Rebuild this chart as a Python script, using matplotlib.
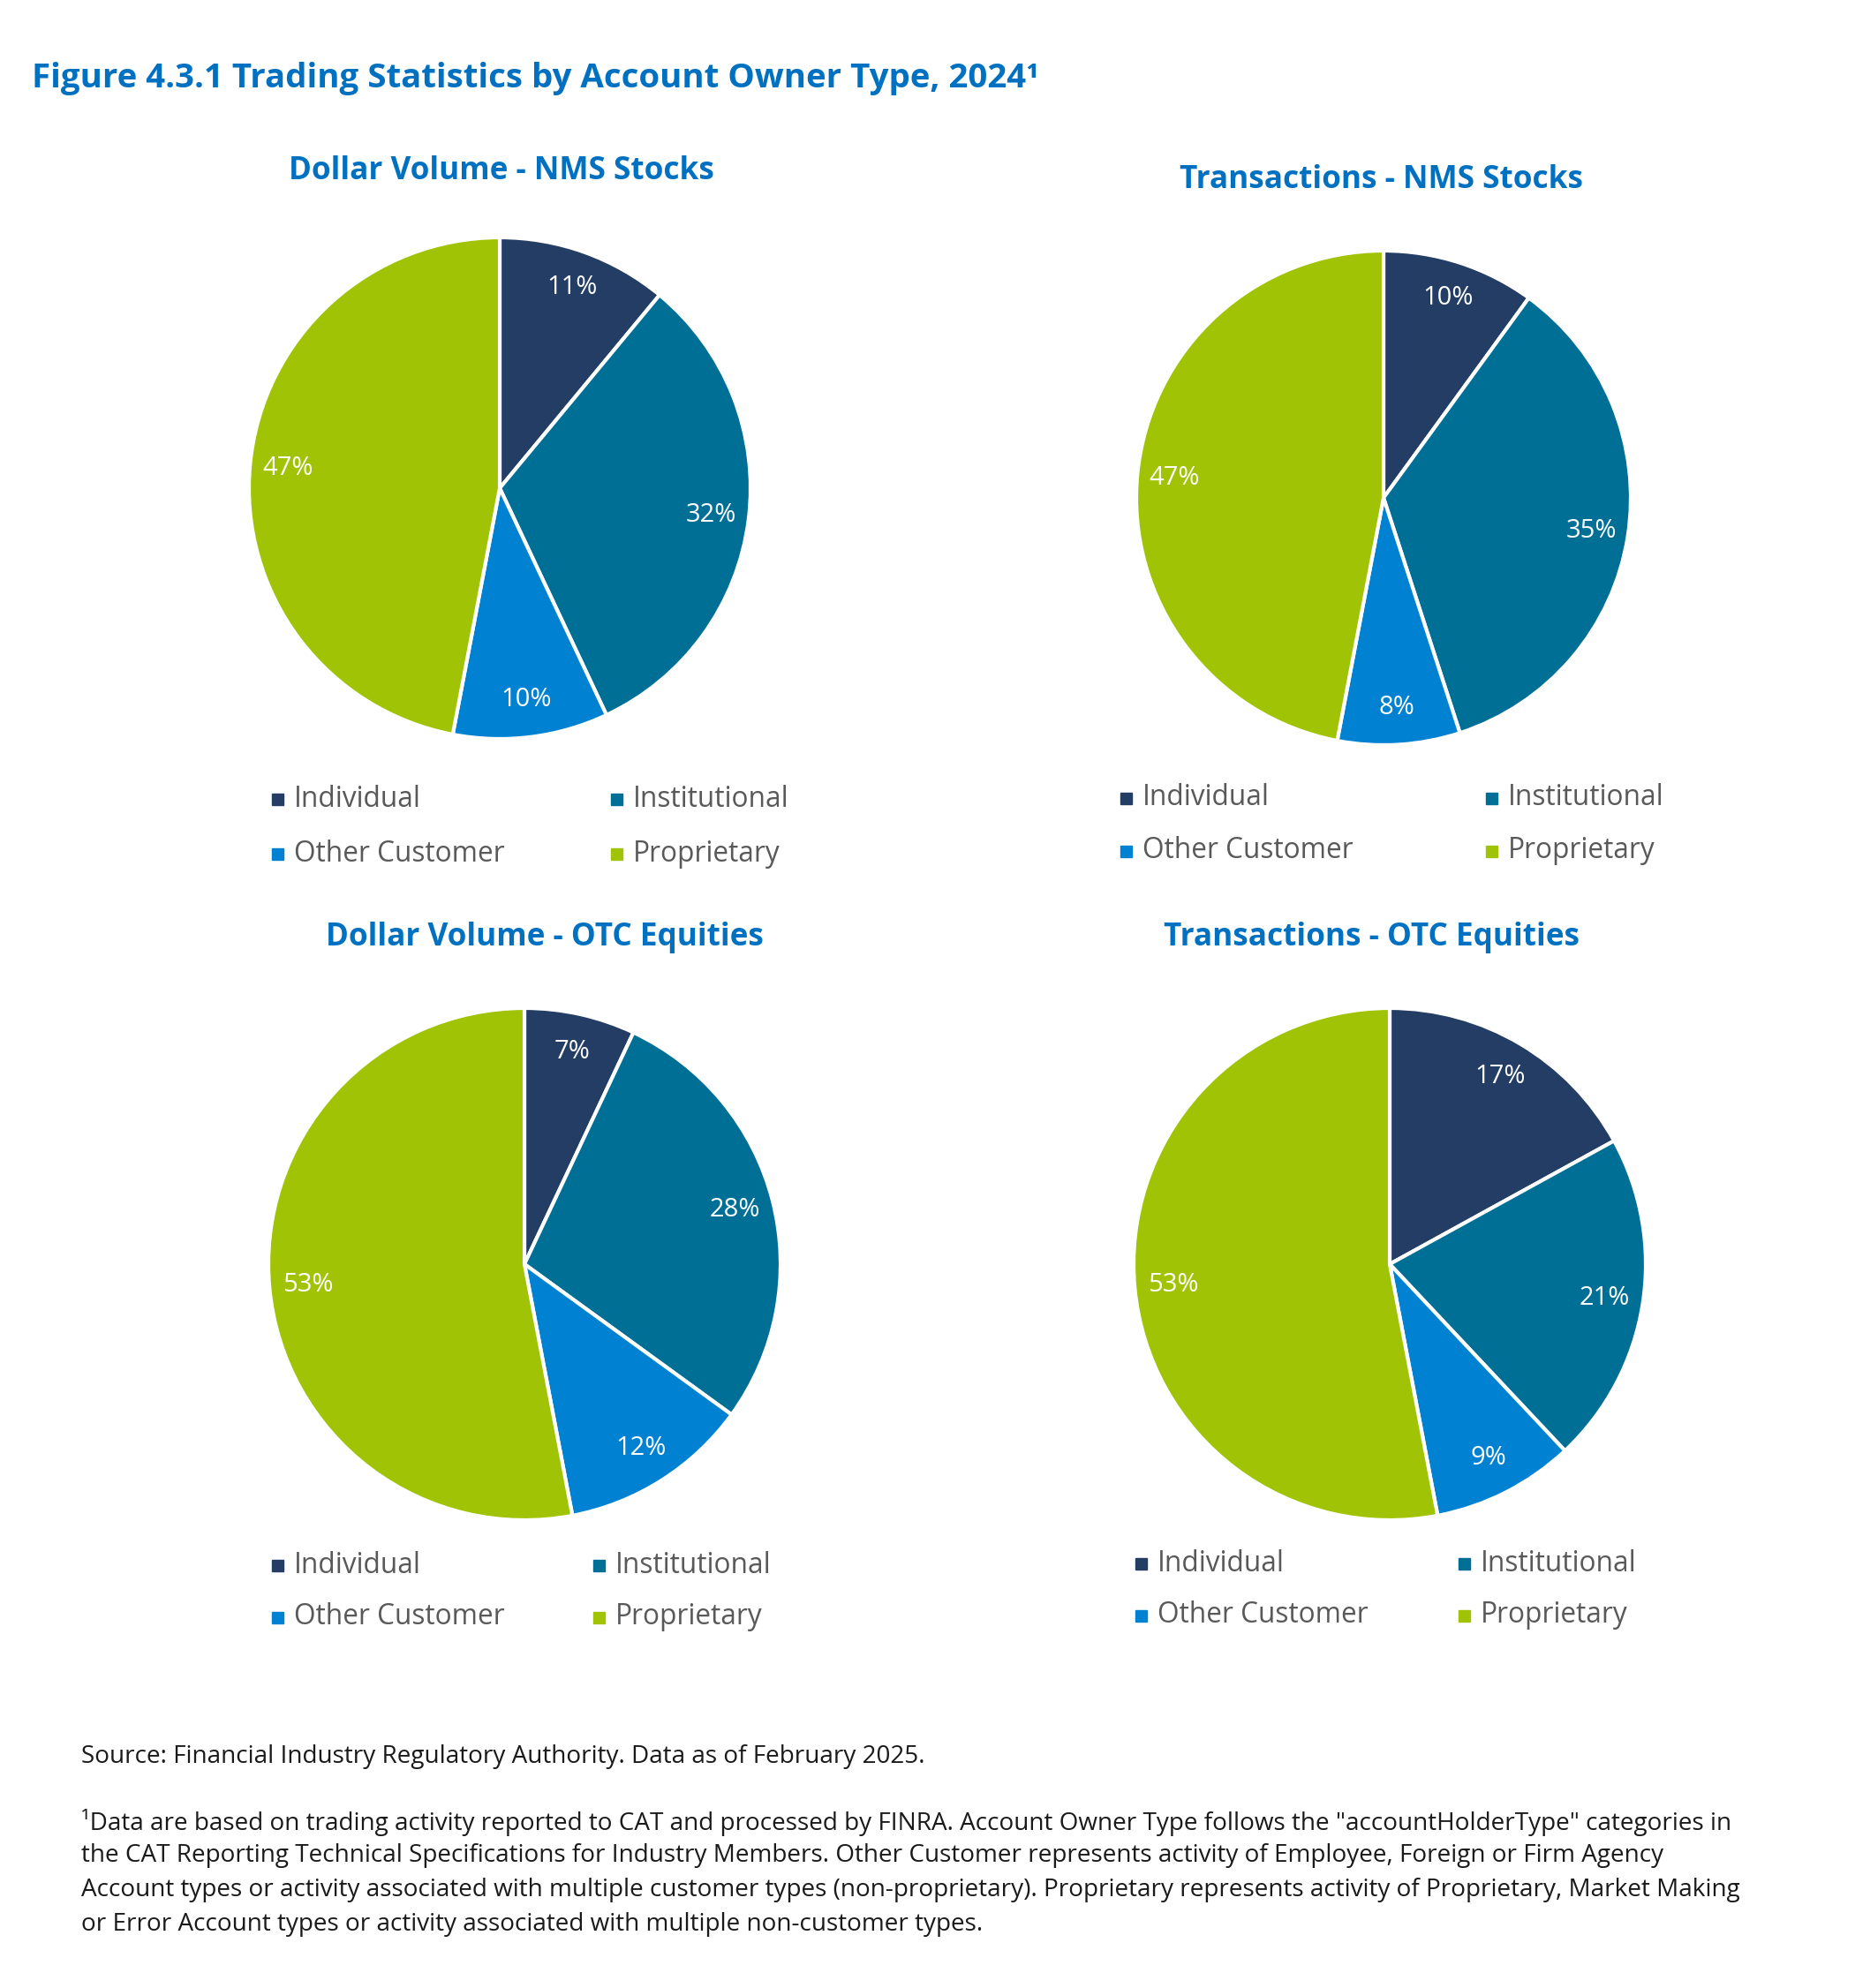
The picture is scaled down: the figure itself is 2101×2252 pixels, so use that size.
import matplotlib
matplotlib.use("Agg")
import matplotlib.pyplot as plt
from matplotlib.patches import Rectangle

W, H = 2101, 2252

# data
categories = ["Individual", "Institutional", "Other Customer", "Proprietary"]
colors = ["#243D64", "#006F96", "#0081D1", "#A0C405"]

titles = ["Dollar Volume - NMS Stocks", "Transactions - NMS Stocks",
          "Dollar Volume - OTC Equities", "Transactions - OTC Equities"]
dollar_nms = [11, 32, 10, 47]
trans_nms = [10, 35, 8, 47]
dollar_otc = [7, 28, 12, 53]
trans_otc = [17, 21, 9, 53]
series = [dollar_nms, trans_nms, dollar_otc, trans_otc]

main_title = "Figure 4.3.1 Trading Statistics by Account Owner Type, 2024\u00b9"
source = "Source: Financial Industry Regulatory Authority. Data as of February 2025."
footnote = [
    "\u00b9Data are based on trading activity reported to CAT and processed by FINRA. Account Owner Type follows the \"accountHolderType\" categories in",
    "the CAT Reporting Technical Specifications for Industry Members. Other Customer represents activity of Employee, Foreign or Firm Agency",
    "Account types or activity associated with multiple customer types (non-proprietary). Proprietary represents activity of Proprietary, Market Making",
    "or Error Account types or activity associated with multiple non-customer types.",
]

# layout in pixels (x from left, y from top)
centers = [(566, 553), (1567, 564), (594, 1432), (1574, 1432)]
radii = [284, 280, 290, 290]
title_pos = [(568, 194), (1564, 204), (617, 1062), (1553, 1062)]
leg_x = [(314, 698), (1275, 1689), (314, 678), (1292, 1658)]
leg_y = [(905, 967), (904, 964), (1773, 1832), (1771, 1830)]

blue = "#0070C0"
plt.rcParams["font.family"] = ["Open Sans", "DejaVu Sans"]

fig = plt.figure(figsize=(W / 100, H / 100), dpi=100)


def fx(x):
    return x / W


def fy(y):
    return 1 - y / H


fig.text(fx(36), fy(89), main_title, color=blue, fontsize=27.6, fontweight="bold",
         ha="left", va="center")

for k in range(4):
    cx, cy = centers[k]
    r = radii[k]
    ax = fig.add_axes([fx(cx - r), fy(cy + r), 2 * r / W, 2 * r / H])
    wedges, texts, autotexts = ax.pie(
        series[k], colors=colors, startangle=90, counterclock=False,
        autopct="%1.0f%%", pctdistance=0.85, radius=1,
        wedgeprops=dict(edgecolor="white", linewidth=3),
        textprops=dict(color="white", fontsize=21))
    ax.set_xlim(-1.0, 1.0)
    ax.set_ylim(-1.0, 1.0)
    ax.axis("off")

    tx, ty = title_pos[k]
    fig.text(fx(tx), fy(ty), titles[k], color=blue, fontsize=25.3,
             fontweight="bold", ha="center", va="center")

    for i, name in enumerate(categories):
        mx = leg_x[k][i % 2]
        my = leg_y[k][i // 2]
        s = 13
        fig.add_artist(Rectangle((fx(mx - s / 2), fy(my + s / 2)), s / W, s / H,
                                 transform=fig.transFigure, color=colors[i]))
        fig.text(fx(mx + 19), fy(my), name, color="#595959", fontsize=22.8,
                 ha="left", va="center")

fig.text(fx(92), fy(1990), source, color="#1A1A1A", fontsize=20.1,
         ha="left", va="center")
foot_y = [2065, 2102, 2141, 2180]
for line, y in zip(footnote, foot_y):
    fig.text(fx(92), fy(y), line, color="#1A1A1A", fontsize=20.1,
             ha="left", va="center")

fig.savefig("out.png", dpi=100, facecolor="white")
